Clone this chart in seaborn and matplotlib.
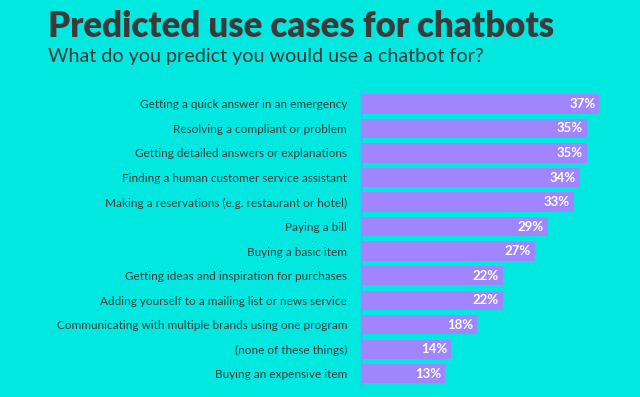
import matplotlib
matplotlib.use("Agg")
import matplotlib.pyplot as plt
import seaborn as sns
import pandas as pd

# data
use_cases = [
    "Getting a quick answer in an emergency",
    "Resolving a compliant or problem",
    "Getting detailed answers or explanations",
    "Finding a human customer service assistant",
    "Making a reservations (e.g. restaurant or hotel)",
    "Paying a bill",
    "Buying a basic item",
    "Getting ideas and inspiration for purchases",
    "Adding yourself to a mailing list or news service",
    "Communicating with multiple brands using one program",
    "(none of these things)",
    "Buying an expensive item",
]
shares = [37, 35, 35, 34, 33, 29, 27, 22, 22, 18, 14, 13]

BG = "#00E8E0"
BAR = "#A085FF"
TXT = "#3A3A3A"

df = pd.DataFrame({"use_case": use_cases, "share": shares})

sns.set_style("white")
plt.rcParams["font.family"] = ["Lato", "DejaVu Sans"]

fig = plt.figure(figsize=(6.4, 3.97), dpi=100, facecolor=BG)
ax = fig.add_axes([0.564, 0.028, 0.436, 0.741], facecolor=BG)

sns.barplot(data=df, x="share", y="use_case", color=BAR, width=0.78,
            saturation=1, linewidth=0, ax=ax)

ax.set_xlim(0, 43.3)
ax.set_xlabel("")
ax.set_ylabel("")
ax.set_xticks([])
ax.tick_params(axis="y", length=0, pad=10, labelsize=8.5, labelcolor=TXT)

for s in ["top", "right", "bottom"]:
    ax.spines[s].set_visible(False)
ax.spines["left"].set_color(BAR)
ax.spines["left"].set_linewidth(1)

# value labels inside bar ends
for i, v in enumerate(shares):
    ax.text(v - 0.6, i, f"{v}%", ha="right", va="center", color="white",
            fontsize=9.5, fontweight="bold")

fig.text(0.075, 0.907, "Predicted use cases for chatbots", fontsize=25,
         fontweight="heavy", color=TXT, ha="left", va="baseline")
fig.text(0.075, 0.845, "What do you predict you would use a chatbot for?",
         fontsize=14.2, color=TXT, ha="left", va="baseline")

fig.savefig("out.png", dpi=100, facecolor=BG)
